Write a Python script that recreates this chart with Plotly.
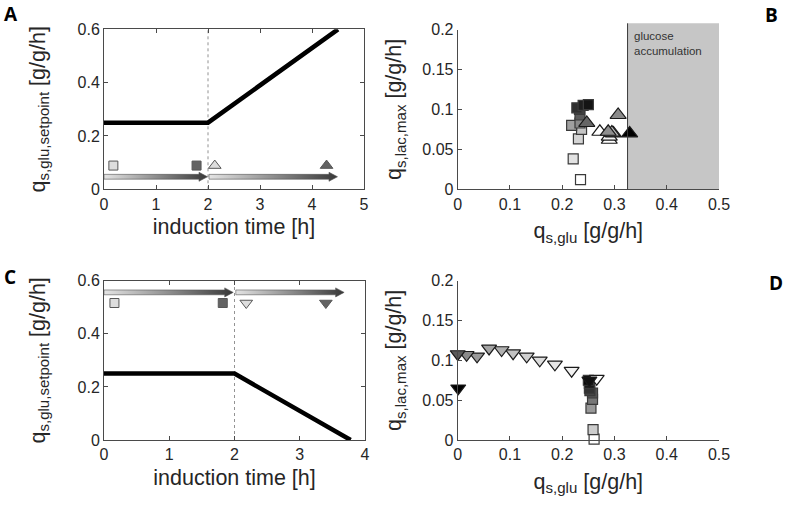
import plotly.graph_objects as go

W, H = 787, 506

# ---------------- data ----------------
# Panel A: setpoint profile (increasing)
a_time = [0, 2, 4.5]
a_setpoint = [0.25, 0.25, 0.6]
a_arrow_start = [0.0, 2.02]
a_arrow_end = [1.99, 4.49]
a_arrow_y = 0.047
a_marker_x = [0.18, 1.78, 2.13, 4.28]
a_marker_y = [0.089, 0.089, 0.089, 0.089]
a_marker_sym = ["square", "square", "triangle-up", "triangle-up"]
a_marker_col = ["#cfcfcf", "#222222", "#cfcfcf", "#222222"]
a_marker_size = [9, 9, 11, 11]

# Panel C: setpoint profile (decreasing)
c_time = [0, 2, 3.78]
c_setpoint = [0.25, 0.25, 0.0]
c_arrow_start = [0.0, 2.02]
c_arrow_end = [1.98, 3.68]
c_arrow_y = 0.556
c_marker_x = [0.16, 1.82, 2.18, 3.4]
c_marker_y = [0.516, 0.516, 0.516, 0.516]
c_marker_sym = ["square", "square", "triangle-down", "triangle-down"]
c_marker_col = ["#cfcfcf", "#222222", "#cfcfcf", "#222222"]
c_marker_size = [9, 9, 11, 11]

# Panel B scatter
b_sq_x = [0.235, 0.221, 0.231, 0.237, 0.218, 0.234, 0.234, 0.233, 0.228, 0.240, 0.250]
b_sq_y = [0.012, 0.038, 0.063, 0.075, 0.080, 0.083, 0.093, 0.100, 0.102, 0.105, 0.106]
b_sq_c = ["#ffffff", "#e2e2e2", "#d4d4d4", "#c4c4c4", "#a0a0a0", "#8a8a8a",
          "#5a5a5a", "#444444", "#2e2e2e", "#1e1e1e", "#141414"]
b_tri_x = [0.290, 0.290, 0.272, 0.298, 0.295, 0.288, 0.247, 0.307, 0.329]
b_tri_y = [0.062, 0.066, 0.072, 0.070, 0.071, 0.072, 0.083, 0.093, 0.070]
b_tri_c = ["#ffffff", "#f4f4f4", "#ffffff", "#dddddd", "#bdbdbd", "#8f8f8f",
           "#666666", "#8a8a8a", "#000000"]
glucose_limit = 0.325
glucose_max = 0.5

# Panel D scatter
d_tri_x = [0.266, 0.218, 0.186, 0.157, 0.132, 0.106, 0.084, 0.060, 0.037, 0.017, 0.0, 0.252, 0.001]
d_tri_y = [0.077, 0.087, 0.095, 0.100, 0.105, 0.109, 0.113, 0.115, 0.105, 0.107, 0.108, 0.075, 0.065]
d_tri_c = ["#ffffff", "#f2f2f2", "#e6e6e6", "#dddddd", "#d0d0d0", "#c2c2c2",
           "#b0b0b0", "#a4a4a4", "#9a9a9a", "#8a8a8a", "#5a5a5a", "#111111", "#000000"]
d_sq_x = [0.261, 0.259, 0.255, 0.258, 0.258, 0.253, 0.252, 0.252, 0.250]
d_sq_y = [0.001, 0.013, 0.040, 0.051, 0.059, 0.062, 0.065, 0.071, 0.075]
d_sq_c = ["#ffffff", "#cccccc", "#999999", "#777777", "#555555", "#444444",
          "#333333", "#1a1a1a", "#0a0a0a"]

# ---------------- layout helpers ----------------
def px2x(p):
    return p / W

def px2y(p):
    return 1 - p / H

def dom_x(p0, p1):
    return [px2x(p0), px2x(p1)]

def dom_y(top, bottom):
    return [px2y(bottom), px2y(top)]

AX_COL = "#4a4a4a"
TXT_COL = "#262626"
FONT = "Liberation Sans, Arial, sans-serif"
TICK_FONT = dict(family=FONT, size=16, color=TXT_COL)
TITLE_FONT = dict(family=FONT, size=21.5, color=TXT_COL)

fig = go.Figure()

# panel geometry (page pixels)
A_x = (104, 364); A_y = (29.3, 189.3)
B_x = (457.7, 719); B_y = (29.5, 189.3)
C_x = (104, 365); C_y = (280.7, 440)
D_x = (457.7, 719); D_y = (280.7, 440)


def px_per_unit(pxr, rng):
    return (pxr[1] - pxr[0]) / (rng[1] - rng[0])


def add_arrows(starts, ends, yv, xref, yref, pxx, pxy):
    half = 2.4 / pxy          # half shaft thickness in data units
    head_h = 4.5 / pxy        # half head height
    head_l = 8.5 / pxx        # head length
    for s, e in zip(starts, ends):
        xs = [s, e - head_l, e - head_l, e, e - head_l, e - head_l, s, s]
        ys = [yv - half, yv - half, yv - head_h, yv, yv + head_h, yv + half, yv + half, yv - half]
        fig.add_trace(go.Scatter(
            x=xs, y=ys, xaxis=xref, yaxis=yref, mode="lines", fill="toself",
            fillgradient=dict(type="horizontal", colorscale=[[0, "#e4e4e4"], [1, "#383838"]]),
            line=dict(width=0.6, color="#555555"), hoverinfo="skip", cliponaxis=False))


# ---- Panel A ----
fig.add_trace(go.Scatter(x=a_time, y=a_setpoint, xaxis="x", yaxis="y", mode="lines",
                         line=dict(color="black", width=4.5)))
add_arrows(a_arrow_start, a_arrow_end, a_arrow_y, "x", "y",
           px_per_unit(A_x, (0, 5)), px_per_unit(A_y, (0, 0.6)))
fig.add_trace(go.Scatter(x=a_marker_x, y=a_marker_y, xaxis="x", yaxis="y", mode="markers",
                         marker=dict(symbol=a_marker_sym, color=a_marker_col, size=a_marker_size,
                                     line=dict(color="#111111", width=1)), cliponaxis=False))

# ---- Panel C ----
fig.add_trace(go.Scatter(x=c_time, y=c_setpoint, xaxis="x3", yaxis="y3", mode="lines",
                         line=dict(color="black", width=4.5)))
add_arrows(c_arrow_start, c_arrow_end, c_arrow_y, "x3", "y3",
           px_per_unit(C_x, (0, 4)), px_per_unit(C_y, (0, 0.6)))
fig.add_trace(go.Scatter(x=c_marker_x, y=c_marker_y, xaxis="x3", yaxis="y3", mode="markers",
                         marker=dict(symbol=c_marker_sym, color=c_marker_col, size=c_marker_size,
                                     line=dict(color="#111111", width=1)), cliponaxis=False))

# ---- Panel B ----
fig.add_trace(go.Scatter(x=b_sq_x, y=b_sq_y, xaxis="x2", yaxis="y2", mode="markers",
                         marker=dict(symbol="square", color=b_sq_c, size=10,
                                     line=dict(color="#3a3a3a", width=1.2)), cliponaxis=False))
fig.add_trace(go.Scatter(x=b_tri_x, y=b_tri_y, xaxis="x2", yaxis="y2", mode="markers",
                         marker=dict(symbol="triangle-up", color=b_tri_c, size=14,
                                     line=dict(color="#1a1a1a", width=1.2)), cliponaxis=False))

# ---- Panel D ----
fig.add_trace(go.Scatter(x=d_sq_x, y=d_sq_y, xaxis="x4", yaxis="y4", mode="markers",
                         marker=dict(symbol="square", color=d_sq_c, size=10,
                                     line=dict(color="#3a3a3a", width=1.2)), cliponaxis=False))
fig.add_trace(go.Scatter(x=d_tri_x, y=d_tri_y, xaxis="x4", yaxis="y4", mode="markers",
                         marker=dict(symbol="triangle-down", color=d_tri_c, size=13,
                                     line=dict(color="#1a1a1a", width=1.2)), cliponaxis=False))

# shapes
shapes = [
    dict(type="line", xref="x", yref="y", x0=2, x1=2, y0=0, y1=0.6,
         line=dict(color="#777777", width=0.8, dash="dot"), layer="below"),
    dict(type="line", xref="x3", yref="y3", x0=2, x1=2, y0=0, y1=0.6,
         line=dict(color="#777777", width=0.8, dash="dot"), layer="below"),
    dict(type="rect", xref="x2", yref="paper", x0=glucose_limit, x1=glucose_max,
         y0=px2y(B_y[1]), y1=px2y(23.3), fillcolor="#c6c6c6", line=dict(width=0), layer="below"),
    dict(type="line", xref="x2", yref="paper", x0=glucose_limit, x1=glucose_limit,
         y0=px2y(B_y[1]), y1=px2y(23.3), line=dict(color="#3a3a3a", width=1)),
]

annotations = [
    dict(text="glucose<br>accumulation", xref="x2", yref="paper", x=0.334, y=px2y(28),
         xanchor="left", yanchor="top", showarrow=False, align="left",
         font=dict(family=FONT, size=11.5, color="#333333")),
]
for lab, xp, yp in [("A", 11, 14), ("B", 771, 15), ("C", 10, 277), ("D", 776, 283)]:
    annotations.append(dict(text="<b>" + lab + "</b>", xref="paper", yref="paper",
                            x=px2x(xp), y=px2y(yp), xanchor="center", yanchor="middle",
                            showarrow=False,
                            font=dict(family="Open Sans, sans-serif", size=19, color="black")))


def axis(domain, rng, dtick, title, box, anchor, standoff):
    d = dict(domain=domain, range=rng, dtick=dtick, tick0=0, showgrid=False, zeroline=False,
             showline=True, linecolor=AX_COL, linewidth=1, ticks="inside", ticklen=4,
             tickcolor=AX_COL, tickwidth=1, tickfont=TICK_FONT, anchor=anchor,
             automargin=False, fixedrange=True,
             mirror="ticks" if box else False,
             title=dict(text=title, font=TITLE_FONT, standoff=standoff))
    return d


ya_title = "q<sub>s,glu,setpoint</sub> [g/g/h]"
yb_title = "q<sub>s,lac,max</sub> [g/g/h]"
xb_title = "q<sub>s,glu</sub> [g/g/h]"

fig.update_layout(
    width=W, height=H, margin=dict(l=0, r=0, t=0, b=0),
    plot_bgcolor="white", paper_bgcolor="white", showlegend=False,
    xaxis=axis(dom_x(*A_x), [0, 5], 1, "induction time [h]", True, "y", 7),
    yaxis=axis(dom_y(*A_y), [0, 0.6], 0.2, ya_title, True, "x", 26),
    xaxis2=axis(dom_x(*B_x), [0, 0.5], 0.1, xb_title, False, "y2", 11),
    yaxis2=axis(dom_y(*B_y), [0, 0.2], 0.05, yb_title, False, "x2", 14),
    xaxis3=axis(dom_x(*C_x), [0, 4], 1, "induction time [h]", True, "y3", 7),
    yaxis3=axis(dom_y(*C_y), [0, 0.6], 0.2, ya_title, True, "x3", 26),
    xaxis4=axis(dom_x(*D_x), [0, 0.5], 0.1, xb_title, False, "y4", 11),
    yaxis4=axis(dom_y(*D_y), [0, 0.2], 0.05, yb_title, False, "x4", 14),
    shapes=shapes, annotations=annotations,
)

fig.write_html("out.html", config={"displayModeBar": False},
               post_script="document.body.style.margin='0px';")
